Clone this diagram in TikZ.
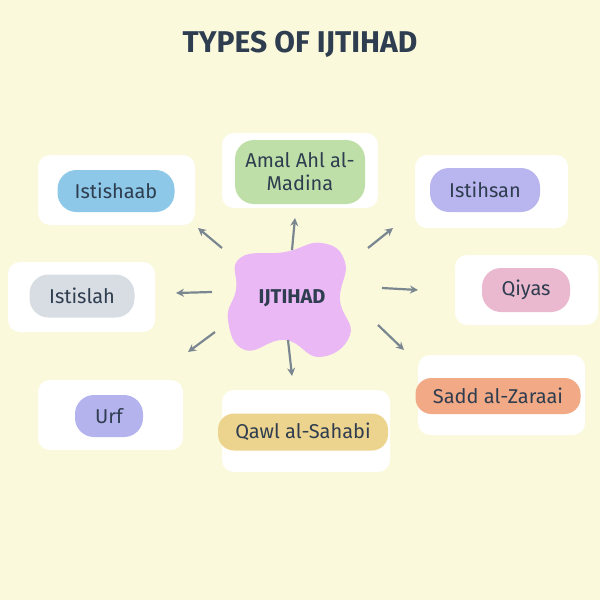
\documentclass[tikz,border=0pt]{standalone}
\usepackage{fontspec}
\setmainfont{Fira Sans}
\usetikzlibrary{arrows.meta}
\definecolor{bg}{HTML}{FAF9DC}
\definecolor{ink}{HTML}{2E3D4F}
\definecolor{arr}{HTML}{7A8690}
\definecolor{ca}{HTML}{8EC8E8}
\definecolor{cb}{HTML}{BEE0A8}
\definecolor{cc}{HTML}{B9B5EE}
\definecolor{cd}{HTML}{D8DDE4}
\definecolor{ce}{HTML}{EAB8CF}
\definecolor{cf}{HTML}{B5B3EE}
\definecolor{cg}{HTML}{EDD48E}
\definecolor{ch}{HTML}{F2A985}
\definecolor{blob}{HTML}{E9B8F5}
\tikzset{card/.style={fill=white,rounded corners=12pt,draw=none},
pill/.style={rounded corners=19pt,draw=none,inner sep=1pt,font=\fontsize{20}{23}\selectfont,text=ink},
con/.style={arr,line width=2.2pt,-{Stealth[length=8pt,width=8pt]}}}
\begin{document}
\begin{tikzpicture}[x=1pt,y=-1pt]
\fill[bg] (0,0) rectangle (600,600);
\node[font=\bfseries\fontsize{30}{32}\selectfont,text=ink] (title) at (300,44) {TYPES OF IJTIHAD};
% cards
\fill[card] (38,155) rectangle (195,225);
\fill[card] (222,133) rectangle (378,208);
\fill[card] (415,155) rectangle (568,228);
\fill[card] (8,262) rectangle (155,332);
\fill[card] (455,255) rectangle (598,325);
\fill[card] (38,380) rectangle (183,450);
\fill[card] (222,390) rectangle (390,472);
\fill[card] (418,355) rectangle (585,435);
% pills
\node[pill,fill=ca,minimum width=117pt,minimum height=42pt] (a) at (116,191) {Istishaab};
\node[pill,fill=cb,minimum width=130pt,minimum height=64pt,align=center] (b) at (300,172) {Amal Ahl al-\\Madina};
\node[pill,fill=cc,minimum width=110pt,minimum height=44pt] (c) at (485,190) {Istihsan};
\node[pill,fill=cd,minimum width=105pt,minimum height=43pt] (d) at (82,296) {Istislah};
\node[pill,fill=ce,minimum width=88pt,minimum height=44pt] (e) at (526,290) {Qiyas};
\node[pill,fill=cf,minimum width=68pt,minimum height=42pt] (f) at (109,416) {Urf};
\node[pill,fill=cg,minimum width=170pt,minimum height=37pt,rounded corners=16pt] (g) at (303,432) {Qawl al-Sahabi};
\node[pill,fill=ch,minimum width=165pt,minimum height=36pt,rounded corners=16pt] (h) at (498,396) {Sadd al-Zaraai};
% blob
\fill[blob] plot[smooth cycle,tension=0.8] coordinates{(240,258)(285,252)(322,243)(345,262)(340,300)(350,335)(320,357)(285,340)(245,350)(228,320)(236,290)};
\node[font=\bfseries\fontsize{20}{22}\selectfont,text=ink] (z) at (292,298) {IJTIHAD};
% arrows
\coordinate (s1) at (222,248); \coordinate (t1) at (198,228);
\coordinate (s2) at (292,250); \coordinate (t2) at (295,218);
\coordinate (s3) at (368,248); \coordinate (t3) at (393,228);
\coordinate (s4) at (212,292); \coordinate (t4) at (176,293);
\coordinate (s5) at (382,288); \coordinate (t5) at (418,290);
\coordinate (s6) at (215,332); \coordinate (t6) at (188,352);
\coordinate (s7) at (288,340); \coordinate (t7) at (292,376);
\coordinate (s8) at (378,325); \coordinate (t8) at (404,350);
\foreach \i in {1,...,8}{\draw[con] (s\i) -- (t\i);}
\end{tikzpicture}
\end{document}
